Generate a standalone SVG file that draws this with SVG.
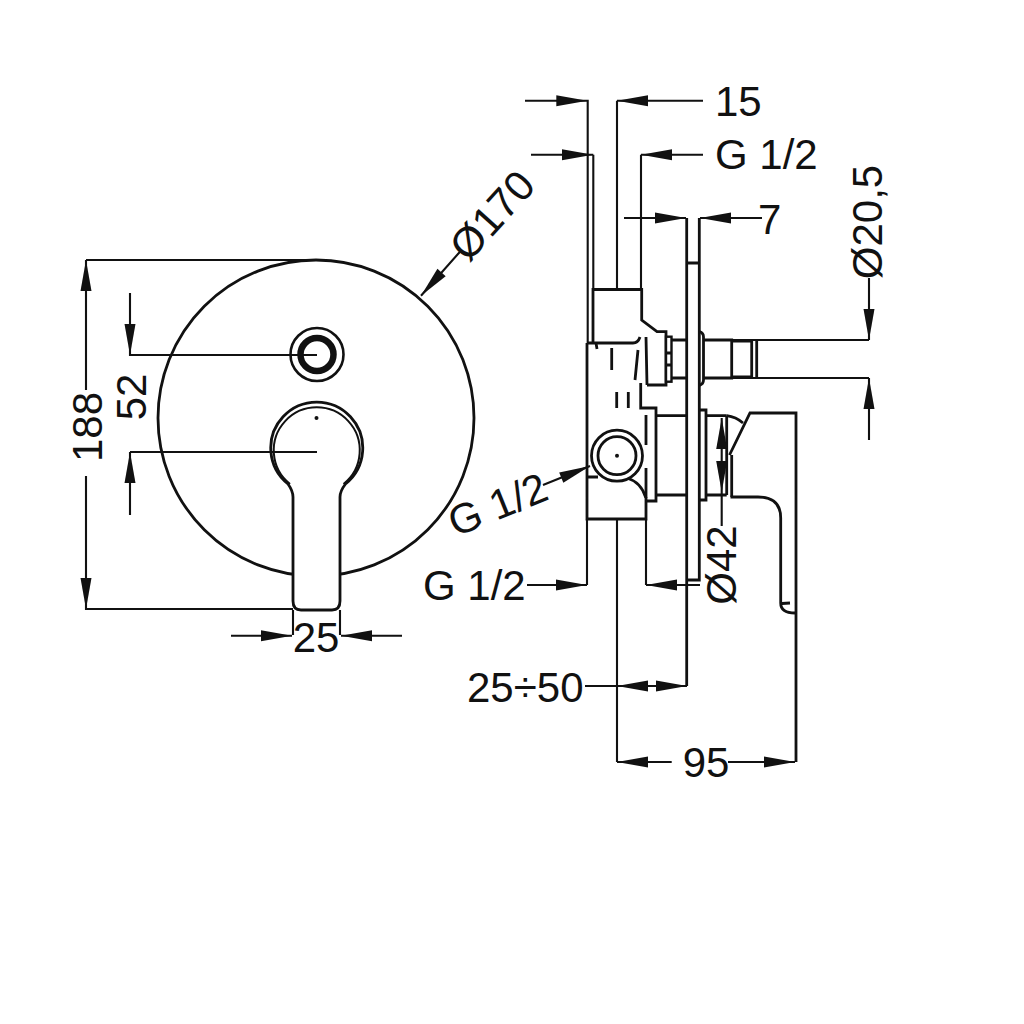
<svg xmlns="http://www.w3.org/2000/svg" width="1024" height="1024" viewBox="0 0 1024 1024">
<style>
text{font-family:"Liberation Sans",Arial,sans-serif;font-size:42px;fill:#111}
.d{fill:none;stroke:#111;stroke-width:2.1}
.o{fill:none;stroke:#111;stroke-width:2.8}
.a{fill:#111}
.hf{fill:#fff;stroke:#111;stroke-width:2.8}
</style>
<defs>
<polygon id="ah" class="a" points="0,0 -31,-5.5 -31,5.500"/>
</defs>
<rect width="1024" height="1024" fill="#fff"/>
<g id="front-plate">
<circle class="o" cx="316" cy="418" r="158"/>
</g>
<g id="front-button">
<circle cx="317" cy="354.500" r="26.500" fill="#fff" stroke="#111" stroke-width="2.600"/>
<circle cx="317" cy="354.500" r="16.500" fill="#fff" stroke="#111" stroke-width="6.500"/>
</g>
<g id="front-handle">
<path class="hf" d="M293 601V497Q293 491 288 484A46 46 0 1 1 345.500 484Q340 491 340 497V601Q340 610 332 610H301Q293 610 293 601Z"/>
<path d="M290 484A43 43 0 1 1 343.500 484" fill="none" stroke="#111" stroke-width="2"/>
<circle class="a" cx="316.500" cy="418" r="2"/>
</g>
<g id="side-body">
<path class="o" d="M593 343V289.500H641.700V320L657 331.700H666V385H647M640.700 383V408H656V501H647"/>
<path class="o" d="M587 343H633Q638 343 640 337M638 350Q636 370 635 380"/>
<path class="o" d="M587 343V519H646V498Q641 482 627 478M588 477H598"/>
<path class="o" d="M646 337L647 385M646 415V445M646 468V498M611.700 348V370M616.700 392V408M628.300 392V408"/>
<path d="M596 343L597 349" class="o"/>
<circle cx="617" cy="455.700" r="25.500" fill="#fff" stroke="#111" stroke-width="2.800"/>
<circle cx="617" cy="455.700" r="19" fill="none" stroke="#111" stroke-width="2.800"/>
<circle class="a" cx="617" cy="455.700" r="2"/>
</g>
<g id="side-stem">
<rect x="666" y="336.700" width="5.500" height="45" fill="#fff" stroke="#111" stroke-width="2.400"/>
<path class="o" d="M666 353H671M666 365H671"/>
<path class="o" d="M671.500 340H686.700M671.500 378H686.700M703.500 340H731.700V378H703.500M731.700 341H751.700M731.700 377H751.700M751.700 340V378M756.700 340V378"/>
<path class="o" d="M699.500 331.700Q703.500 333 703.500 337V380Q703.500 384 699.500 385.300"/>
</g>
<g id="side-plate">
<path class="o" d="M686.700 218V686M699.300 218V580H686.700M686.700 263H699.300"/>
</g>
<g id="side-lever">
<path class="o" d="M699.300 410H706V500H699.300M706 415.700H726.700M706 495H726.700M726.700 415.700V495M656 415.700H686.700M656 495H686.700"/>
<path class="o" d="M726.700 415.700Q736 417 743 423M731.700 455V497"/>
<path class="o" d="M729.500 455L750 413H796V762M730.500 497H758Q780.700 497 780.700 518V603Q780.700 613 795 613M782 603.500L790 603"/>
</g>
<g id="connectors">
<path class="d" d="M525 100.700H587.700V343M617 100.700H703M617 100.700V289.500M531 154.700H593.300M593.300 154.700V289.500M641 154.700H703M641 154.700V289.500M624 218H686M700 218H762"/>
<path class="d" d="M86 260H316M86 260V390M86 476V609H293M130 293V355H317M130 452H317M130 452V515"/>
<path class="d" d="M293 610V635M340 610V635M231 635.700H292M341 635.700H402"/>
<path class="d" d="M421 295.700L460 251.700M543 485L590 466"/>
<path class="d" d="M703 340H869M703 378H869M869 278V340M869 378V440"/>
<path class="d" d="M721.700 418V526M587 519V585M646 519V585M527 585H587M646 585H700"/>
<path class="d" d="M617 519V762M585 686H687M617 762H671.700M728 762H795"/>
<use href="#ah" transform="translate(587.300 100.700)"/>
<use href="#ah" transform="translate(617 100.700) rotate(180)"/>
<use href="#ah" transform="translate(593 154.700)"/>
<use href="#ah" transform="translate(641 154.700) rotate(180)"/>
<use href="#ah" transform="translate(686 218)"/>
<use href="#ah" transform="translate(700 218) rotate(180)"/>
<use href="#ah" transform="translate(86 260) rotate(-90)"/>
<use href="#ah" transform="translate(86 609) rotate(90)"/>
<use href="#ah" transform="translate(130 355) rotate(90)"/>
<use href="#ah" transform="translate(130 452) rotate(-90)"/>
<use href="#ah" transform="translate(292 635.700)"/>
<use href="#ah" transform="translate(341 635.700) rotate(180)"/>
<use href="#ah" transform="translate(421 295.700) rotate(131.500)"/>
<use href="#ah" transform="translate(590 466) rotate(-22)"/>
<use href="#ah" transform="translate(869 340) rotate(90)"/>
<use href="#ah" transform="translate(869 378) rotate(-90)"/>
<use href="#ah" transform="translate(721.700 418) rotate(-90)"/>
<use href="#ah" transform="translate(721.700 492) rotate(90)"/>
<use href="#ah" transform="translate(587 585)"/>
<use href="#ah" transform="translate(646 585) rotate(180)"/>
<use href="#ah" transform="translate(617 686) rotate(180)"/>
<use href="#ah" transform="translate(687 686)"/>
<use href="#ah" transform="translate(617 762) rotate(180)"/>
<use href="#ah" transform="translate(795 762)"/>
</g>
<g id="labels">
<text x="715" y="116">15</text>
<text x="715" y="169">G 1/2</text>
<text x="758" y="234">7</text>
<text text-anchor="middle" transform="translate(503 225) rotate(-48)">Ø170</text>
<text text-anchor="middle" transform="translate(882 222) rotate(-90)">Ø20,5</text>
<text text-anchor="middle" transform="translate(102 427) rotate(-90)">188</text>
<text text-anchor="middle" transform="translate(146 397) rotate(-90)">52</text>
<text text-anchor="middle" transform="translate(736 565) rotate(-90)">Ø42</text>
<text text-anchor="middle" transform="translate(503 518) rotate(-22)">G 1/2</text>
<text x="423" y="600">G 1/2</text>
<text x="316" y="652" text-anchor="middle">25</text>
<text x="467" y="702">25÷50</text>
<text x="706" y="777" text-anchor="middle">95</text>
</g>
</svg>
